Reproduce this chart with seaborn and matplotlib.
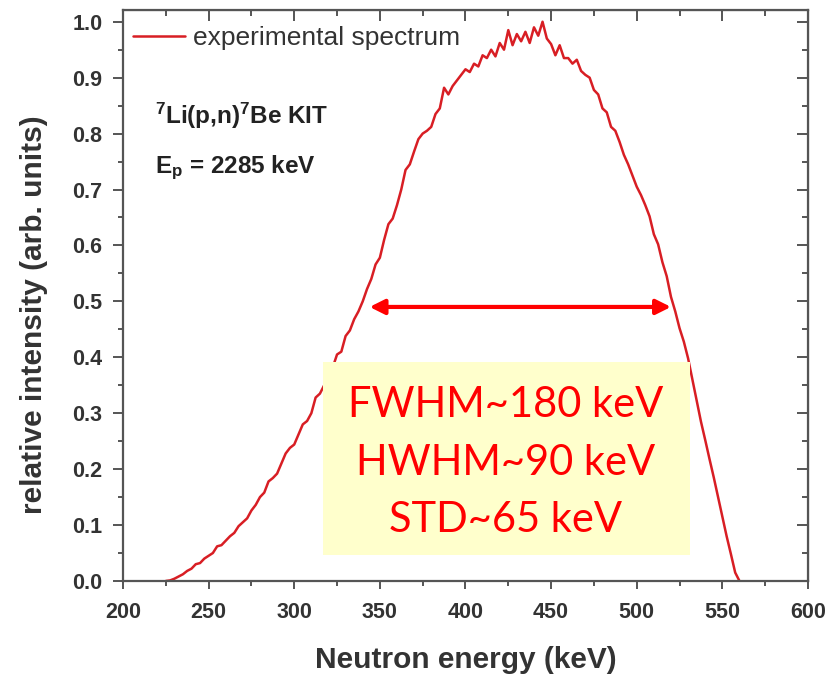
import numpy as np
import pandas as pd
import seaborn as sns
import matplotlib
matplotlib.use("Agg")
import matplotlib.pyplot as plt
from matplotlib.patches import Rectangle
from matplotlib.ticker import MultipleLocator

# neutron energy bins (keV), 2.5 keV wide
energy = np.arange(225.0, 560.1, 2.5)

# relative intensity
intensity = [
    0.000, 0.001, 0.004, 0.008, 0.012, 0.018, 0.022, 0.030, 0.032, 0.040,
    0.045, 0.050, 0.062, 0.064, 0.072, 0.080, 0.086, 0.098, 0.105, 0.112,
    0.126, 0.136, 0.150, 0.158, 0.178, 0.184, 0.192, 0.210, 0.228, 0.238,
    0.244, 0.262, 0.280, 0.286, 0.300, 0.328, 0.335, 0.350, 0.358, 0.382,
    0.405, 0.410, 0.438, 0.448, 0.468, 0.482, 0.500, 0.522, 0.540, 0.566,
    0.578, 0.610, 0.638, 0.648, 0.672, 0.700, 0.735, 0.745, 0.768, 0.790,
    0.800, 0.805, 0.812, 0.835, 0.845, 0.882, 0.870, 0.885, 0.895, 0.905,
    0.915, 0.910, 0.925, 0.920, 0.940, 0.935, 0.950, 0.938, 0.962, 0.950,
    0.985, 0.958, 0.978, 0.965, 0.982, 0.962, 0.990, 0.975, 1.000, 0.970,
    0.960, 0.940, 0.958, 0.935, 0.935, 0.925, 0.932, 0.912, 0.905, 0.900,
    0.878, 0.870, 0.845, 0.838, 0.812, 0.805, 0.785, 0.762, 0.745, 0.725,
    0.705, 0.690, 0.672, 0.652, 0.620, 0.602, 0.570, 0.545, 0.508, 0.482,
    0.452, 0.428, 0.398, 0.360, 0.322, 0.285, 0.252, 0.218, 0.185, 0.150,
    0.115, 0.080, 0.048, 0.015, 0.000,
]

df = pd.DataFrame({"energy": energy, "intensity": intensity})

# FWHM arrow ends (keV) and height
fwhm_left = 344
fwhm_right = 520
half_max = 0.49

stats_lines = ["FWHM~180 keV", "HWHM~90 keV", "STD~65 keV"]

sns.set_style("ticks")
plt.rcParams["font.family"] = ["Liberation Sans", "DejaVu Sans"]
plt.rcParams["mathtext.fontset"] = "custom"
plt.rcParams["mathtext.rm"] = "Liberation Sans:bold"
plt.rcParams["mathtext.it"] = "Liberation Sans:bold"
plt.rcParams["mathtext.bf"] = "Liberation Sans:bold"

dark = "#333333"
grey = "#555555"

fig = plt.figure(figsize=(8.27, 6.75), dpi=100)
ax = fig.add_axes([0.1487, 0.1393, 0.8283, 0.8459])

sns.lineplot(data=df, x="energy", y="intensity", ax=ax, color="#d81e24",
             lw=1.8, label="experimental spectrum")

ax.set_xlim(200, 600)
ax.set_ylim(0, 1.021)
ax.xaxis.set_major_locator(MultipleLocator(50))
ax.xaxis.set_minor_locator(MultipleLocator(25))
ax.yaxis.set_major_locator(MultipleLocator(0.1))
ax.yaxis.set_minor_locator(MultipleLocator(0.05))
ax.yaxis.set_major_formatter(matplotlib.ticker.FormatStrFormatter("%.1f"))

for s in ax.spines.values():
    s.set_color(grey)
    s.set_linewidth(1.6)

ax.tick_params(which="both", direction="out", colors=grey, width=1.4,
               labelcolor=dark, labelsize=15.5)
ax.tick_params(axis="y", which="major", length=7.2, pad=7.5)
ax.tick_params(axis="y", which="minor", length=3.6)
ax.tick_params(axis="x", which="major", length=6, pad=9)
ax.tick_params(axis="x", which="minor", length=3.5)
for lab in ax.get_xticklabels() + ax.get_yticklabels():
    lab.set_fontweight("bold")

# mirrored inward ticks on top and right
axt = ax.secondary_xaxis("top")
axt.xaxis.set_major_locator(MultipleLocator(50))
axt.xaxis.set_minor_locator(MultipleLocator(25))
axt.tick_params(which="both", direction="in", colors=grey, width=1.4,
                labeltop=False)
axt.tick_params(which="major", length=8)
axt.tick_params(which="minor", length=4.5)
axr = ax.secondary_yaxis("right")
axr.yaxis.set_major_locator(MultipleLocator(0.1))
axr.yaxis.set_minor_locator(MultipleLocator(0.05))
axr.tick_params(which="both", direction="in", colors=grey, width=1.4,
                labelright=False)
axr.tick_params(which="major", length=8)
axr.tick_params(which="minor", length=4.5)

ax.set_xlabel("Neutron energy (keV)", fontsize=21.5, fontweight="bold",
              color=dark)
ax.xaxis.set_label_coords(0.501, -0.114)
ax.set_ylabel("relative intensity (arb. units)", fontsize=21.5,
              fontweight="bold", color=dark)
ax.yaxis.set_label_coords(-0.109, 0.466)

leg = ax.legend(loc="center left", bbox_to_anchor=(0.0146, 0.951),
                frameon=False, borderpad=0, borderaxespad=0,
                handlelength=1.97, handletextpad=0.3, fontsize=19)
for t in leg.get_texts():
    t.set_color(dark)

ax.text(0.047, 0.80, r"$^{7}$Li(p,n)$^{7}$Be KIT", transform=ax.transAxes,
        fontsize=17.5, fontweight="bold", color="#222222")
ax.text(0.047, 0.715, r"E$_{\mathrm{p}}$ = 2285 keV", transform=ax.transAxes,
        fontsize=17.5, fontweight="bold", color="#222222")

ax.annotate("", xy=(fwhm_right, half_max), xytext=(fwhm_left, half_max),
            arrowprops=dict(arrowstyle="<|-|>", color="red", lw=3,
                            mutation_scale=22, shrinkA=0, shrinkB=0))

ax.add_patch(Rectangle((0.292, 0.0455), 0.536, 0.338, transform=ax.transAxes,
                       facecolor="#ffffcc", edgecolor="none", zorder=5))
for line, yb in zip(stats_lines, [0.287, 0.1856, 0.0858]):
    ax.text(0.559, yb, line, transform=ax.transAxes, ha="center",
            va="baseline", fontsize=30, color="red", family="Lato", zorder=6)

fig.savefig("out.png", dpi=100)
